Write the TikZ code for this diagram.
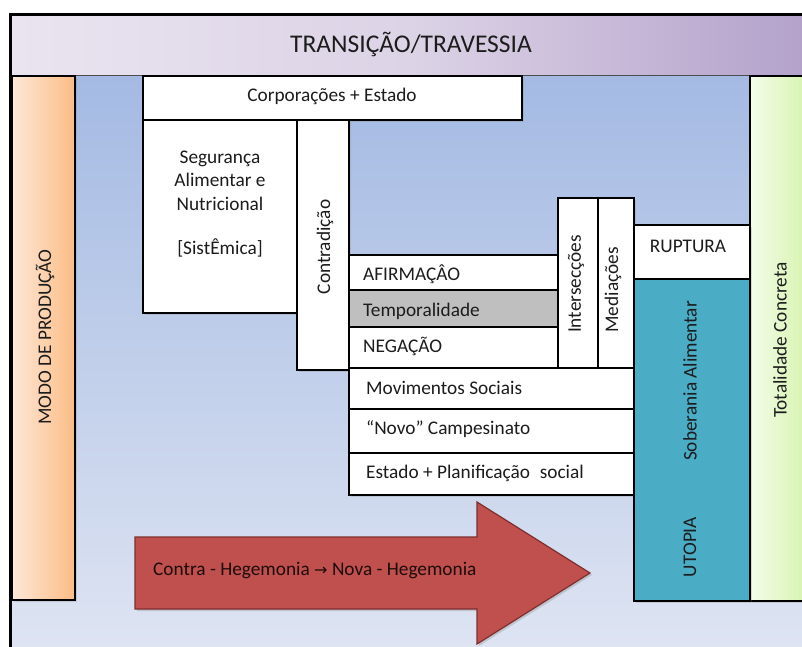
\documentclass[tikz,border=0pt]{standalone}
\usepackage{fontspec}
\setmainfont{Carlito}
\newfontfamily\arrowfont{DejaVu Sans}
\usetikzlibrary{shadows}

\definecolor{textc}{HTML}{1C1C1C}
\definecolor{bgtop}{HTML}{A4BAE3}
\definecolor{bgbot}{HTML}{DEE4F2}
\definecolor{bandl}{HTML}{EAE4F0}
\definecolor{bandm}{HTML}{DCD3E6}
\definecolor{bandr}{HTML}{B3A1CA}
\definecolor{orl}{HTML}{FEE8D8}
\definecolor{orr}{HTML}{FBBC84}
\definecolor{grl}{HTML}{F4FDEA}
\definecolor{grr}{HTML}{D4F2AA}
\definecolor{teal}{HTML}{4BACC6}
\definecolor{greycell}{HTML}{BFBFBF}
\definecolor{arrowred}{HTML}{C0504D}
\definecolor{arrowline}{HTML}{7E2F2D}

\begin{document}
\begin{tikzpicture}[x=1pt,y=-1pt,
  box/.style={draw=black, line width=1.3pt, fill=white, anchor=north west,
              inner sep=0pt, outer sep=0pt,
              drop shadow={opacity=0.25, shadow xshift=1.5pt, shadow yshift=-1.5pt}},
  txt/.style={font=\fontsize{19.3}{23.5}\selectfont, text=textc, inner sep=0pt},
  vtxt/.style={txt, rotate=90},
  lefttxt/.style={txt, anchor=base west},
]
\useasboundingbox (0,0) rectangle (802,646);
\begin{scope}
\clip (0,0) rectangle (802,646);

% page background and frame
\fill[white] (0,0) rectangle (802,646);
\shade[top color=bgtop, bottom color=bgbot] (11,75) rectangle (810,650);
\shade[left color=bandl, right color=bandr, middle color=bandm] (11,15) rectangle (810,75);
\draw[black!70, line width=0.8pt] (11,75) -- (810,75);
\draw[black, line width=3pt] (10,650) -- (10,14) -- (810,14);

\node[txt, font=\fontsize{25.5}{30}\selectfont, anchor=base] (title) at (411,52)
  {TRANSIÇÃO/TRAVESSIA};

% side columns
\node[box, fill=none, left color=orl, right color=orr, minimum width=63pt, minimum height=524pt]
  (modo) at (12,76) {};
\node[vtxt] (modot) at (45,337) {MODO DE PRODUÇÃO};

\node[box, fill=none, left color=grl, right color=grr, minimum width=62pt, minimum height=525pt]
  (tot) at (750,76) {};
\node[vtxt] (tott) at (780,340) {Totalidade Concreta};

% upper blocks
\node[box, minimum width=379pt, minimum height=44pt] (corp) at (143,76) {};
\node[txt, anchor=base] (corpt) at (332,101.5) {Corporações + Estado};

\node[box, minimum width=154pt, minimum height=193pt] (seg) at (143,120) {};
\node[txt, align=center, anchor=base] (segt) at (220,210)
  {Segurança\\Alimentar e\\Nutricional};
\node[txt, anchor=base] (sist) at (220,254) {[SistÊmica]};

\node[box, minimum width=52pt, minimum height=250pt] (contr) at (297,120) {};
\node[vtxt] (contrt) at (325,247) {Contradição};

% dialectic rows
\node[box, minimum width=209pt, minimum height=35pt] (afirm) at (349,255) {};
\node[lefttxt] (afirmt) at (363,280) {AFIRMAÇÂO};
\node[box, fill=greycell, minimum width=209pt, minimum height=37pt] (temp) at (349,290) {};
\node[lefttxt] (tempt) at (363,316.5) {Temporalidade};
\node[box, minimum width=209pt, minimum height=41pt] (neg) at (349,327) {};
\node[lefttxt] (negt) at (363,352) {NEGAÇÃO};

\node[box, minimum width=40pt, minimum height=170pt] (inter) at (558,198) {};
\node[vtxt] (intert) at (576,284) {Intersecções};
\node[box, minimum width=36pt, minimum height=170pt] (medi) at (598,198) {};
\node[vtxt] (medit) at (613,290) {Mediações};

% lower rows
\node[box, minimum width=285pt, minimum height=41pt] (mov) at (349,368) {};
\node[lefttxt] (movt) at (366,394) {Movimentos Sociais};
\node[box, minimum width=285pt, minimum height=44pt] (novo) at (349,409) {};
\node[lefttxt] (novot) at (366,434) {“Novo” Campesinato};
\node[box, minimum width=285pt, minimum height=42pt] (est) at (349,453) {};
\node[lefttxt] (estt) at (366,478) {Estado + Planificação\hspace{0.5em}social};

% right blocks
\node[box, minimum width=116pt, minimum height=54pt] (rupt) at (634,225) {};
\node[txt, anchor=base] (ruptt) at (688,252) {RUPTURA};
\node[box, fill=teal, minimum width=116pt, minimum height=322pt] (sob) at (634,279) {};
\node[vtxt] (sobt) at (690,381) {Soberania Alimentar};
\node[vtxt] (utop) at (690,547) {UTOPIA};

% hegemony arrow
\filldraw[fill=arrowred, draw=arrowline, line width=1.2pt,
  drop shadow={opacity=0.3, shadow xshift=2pt, shadow yshift=-2pt}]
  (135,537) -- (477,537) -- (477,502) -- (590,573) -- (477,644) -- (477,609)
  -- (135,609) -- cycle;
\node[lefttxt, text=black!85!arrowred] (hegt) at (153,575)
  {Contra - Hegemonia {\arrowfont\fontsize{16}{18}\selectfont →} Nova - Hegemonia};
\end{scope}
\end{tikzpicture}
\end{document}
